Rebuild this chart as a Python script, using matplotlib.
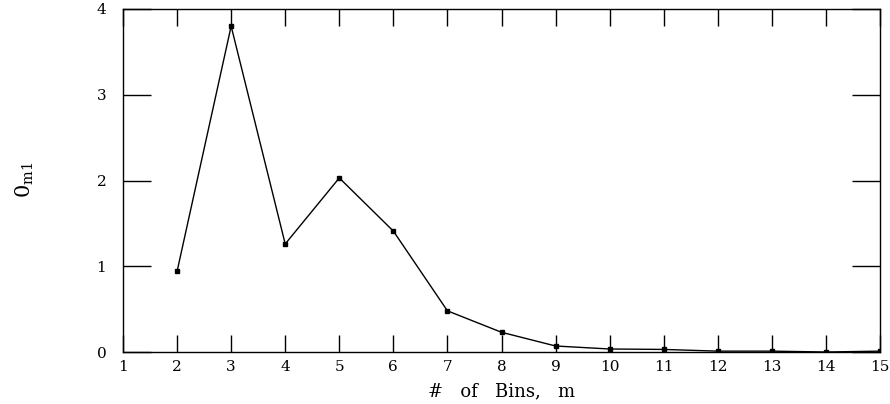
import matplotlib.pyplot as plt

bins = [2, 3, 4, 5, 6, 7, 8, 9, 10, 11, 12, 13, 14, 15]
theta = [0.94, 3.80, 1.26, 2.03, 1.41, 0.48, 0.23, 0.07, 0.035, 0.03, 0.01, 0.01, 0.0, 0.01]

plt.rcParams["font.family"] = "DejaVu Serif"
plt.rcParams["mathtext.fontset"] = "dejavuserif"

fig = plt.figure(figsize=(8.9, 4.04), dpi=100)
ax = fig.add_axes([123 / 890, 1 - 352 / 404, (880 - 123) / 890, (352 - 9) / 404])

ax.plot(bins, theta, color="black", lw=1.0, marker="s", markersize=3.5)

ax.set_xlim(1, 15)
ax.set_ylim(0, 4)
ax.set_xticks(range(1, 16))
ax.set_yticks(range(0, 5))
ax.tick_params(axis="x", direction="in", length=12, width=1, top=True, labelsize=11, pad=6)
ax.tick_params(axis="y", direction="in", length=20, width=1, right=True, labelsize=11, pad=12)
for s in ax.spines.values():
    s.set_linewidth(1)

ax.set_xlabel("#   of   Bins,   m", fontsize=13, labelpad=6)
fig.text(25 / 890, 1 - 180 / 404, r"$\mathrm{0}_{\mathrm{m1}}$", rotation=90,
         ha="center", va="center", fontsize=15)

fig.savefig("out.png", dpi=100)
